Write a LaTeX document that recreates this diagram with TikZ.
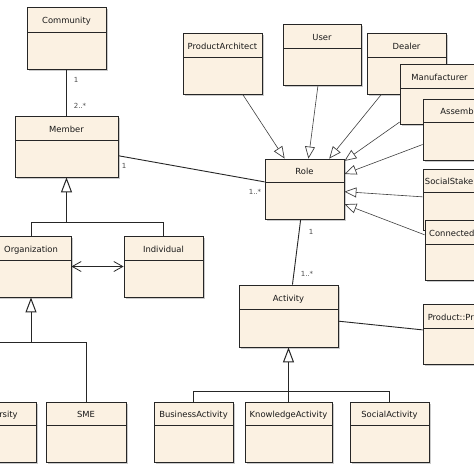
\documentclass[tikz,border=0pt]{standalone}
\usepackage{fontspec}
\setmainfont{DejaVu Sans}
\usetikzlibrary{arrows.meta,shadows,fit,calc}
\definecolor{cream}{RGB}{251,241,226}
\newcommand{\umlclass}[7]{%
  \node[cls, fit={(#2,#3) (#4,#5)}] (#1) {};
  \draw[divline] (#2,#6) -- (#4,#6);
  \node[ttl] (#1-t) at ({(#2+#4)/2},{(#3+#6)/2+1.2}) {#7};
}
\tikzset{
  cls/.style={rectangle, draw=black!85, fill=cream, line width=0.8pt, inner sep=0pt,
    drop shadow={shadow xshift=2pt, shadow yshift=-2pt, fill=black!40, opacity=0.5}},
  divline/.style={draw=black!85, line width=0.8pt},
  ttl/.style={font=\fontsize{8.4}{10}\selectfont, text=black!90, inner sep=0pt, text height=6pt, text depth=0pt},
  mult/.style={font=\fontsize{7}{8}\selectfont, text=black!70, inner sep=0pt},
  assoc/.style={draw=black!85, line width=0.9pt},
  tree/.style={draw=black!85, line width=1pt},
  genarrow/.style={draw=black!85, line width=1pt, -{Triangle[open, fill=white, length=15pt, width=11pt]}},
  rolearrow/.style={draw=black!75, line width=0.6pt, -{Triangle[open, fill=white, length=12pt, width=10pt, line width=0.7pt]}},
  biarrow/.style={draw=black!85, line width=0.8pt, {Straight Barb[length=9pt, width=10pt]}-{Straight Barb[length=9pt, width=10pt]}}
}
\begin{document}
\begin{tikzpicture}[x=1pt, y=-1pt]
\useasboundingbox (0,0) rectangle (474,474);
\fill[white] (0,0) rectangle (474,474);
\clip (0,0) rectangle (474,474);

% classes
\umlclass{community}{27}{7}{106}{69}{32}{Community}
\umlclass{member}{15}{116}{118}{177}{140}{Member}
\umlclass{pa}{183}{33}{262}{94}{57}{ProductArchitect}
\umlclass{user}{283}{24}{361}{85}{48}{User}
\umlclass{dealer}{367}{33}{446}{94}{57}{Dealer}
\umlclass{manu}{400}{64}{479}{124}{88}{Manufacturer}
\umlclass{assem}{423}{99}{502}{160}{122}{Assembler}
\umlclass{social}{423}{169}{502}{230}{192}{SocialStakeholder}
\node[cls, fit={(425,220) (504,280)}] (conn) {};
\draw[divline] (425,244) -- (504,244);
\node[ttl, anchor=west] (conn-t) at (429,233.2) {ConnectedProduct};
\umlclass{role}{265}{159}{344}{219}{182}{Role}
\umlclass{activity}{239}{285}{338}{347}{309}{Activity}
\umlclass{product}{423}{304}{502}{364}{328}{Product::Product}
\umlclass{org}{-9}{236}{71}{297}{260}{Organization}
\umlclass{ind}{124}{236}{203}{297}{260}{Individual}
\umlclass{univ}{-43}{402}{36}{462}{425}{University}
\umlclass{sme}{46}{402}{126}{462}{425}{SME}
\umlclass{bact}{154}{402}{233}{462}{425}{BusinessActivity}
\umlclass{kact}{245}{402}{332}{462}{425}{KnowledgeActivity}
\umlclass{sact}{350}{402}{429}{462}{425}{SocialActivity}

% associations
\draw[assoc, line width=1.2pt] (community) -- (member);
\draw[assoc] (member) -- (role);
\draw[assoc] (role) -- (activity);
\draw[assoc] (activity) -- (product);
\draw[biarrow] (org) -- (ind);

% role generalizations
\draw[rolearrow] (pa) -- (role);
\draw[rolearrow] (user) -- (role);
\draw[rolearrow] (dealer) -- (role);
\draw[rolearrow] (manu) -- (role);
\draw[rolearrow] (assem) -- (role);
\draw[rolearrow] (social) -- (role);
\draw[rolearrow] (conn) -- (role);

% generalization trees
\coordinate (mj) at ($(member.south)+(0,45)$);
\draw[tree] (org.north) |- (mj) -| (ind.north);
\draw[genarrow] (mj) -- (member.south);

\coordinate (oj) at ($(org.south)+(0,45)$);
\draw[tree] (univ.north) |- (oj) -| (sme.north);
\draw[genarrow] (oj) -- (org.south);

\coordinate (aj) at ($(activity.south)+(0,44)$);
\draw[tree, line width=1.3pt] (bact.north) |- (aj) -| (sact.north);
\draw[tree] (aj) -- (kact.north);
\draw[genarrow] (aj) -- (activity.south);

% multiplicities
\node[mult] (m1) at (76,80) {1};
\node[mult] (m2) at (80,106) {2..*};
\node[mult] (m3) at (124,166) {1};
\node[mult] (m4) at (255,192) {1..*};
\node[mult] (m5) at (311,232) {1};
\node[mult] (m6) at (307,274) {1..*};
\end{tikzpicture}
\end{document}
